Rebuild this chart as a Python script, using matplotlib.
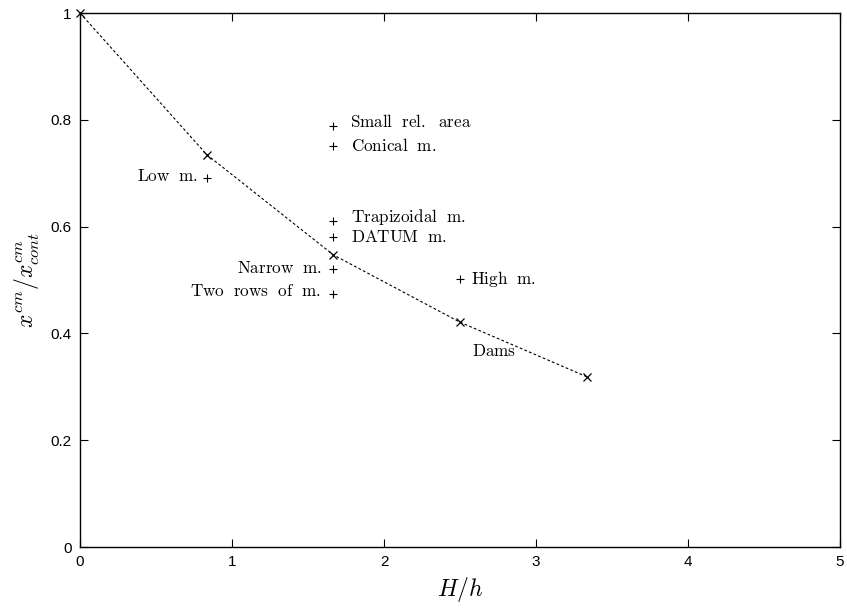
import matplotlib
matplotlib.use('Agg')
import matplotlib.pyplot as plt

plt.rcParams['mathtext.fontset'] = 'cm'
plt.rcParams['font.family'] = ['Liberation Sans', 'DejaVu Sans']

# curve through the x markers
curve_x = [0.0, 0.833, 1.667, 2.5, 3.333]
curve_y = [1.0, 0.735, 0.547, 0.421, 0.319]

# single cases (+ markers)
case_x = [0.833, 1.667, 1.667, 1.667, 1.667, 1.667, 1.667, 2.5]
case_y = [0.691, 0.788, 0.751, 0.610, 0.580, 0.521, 0.474, 0.502]
case_labels = ['Low m.', 'Small rel. area', 'Conical m.', 'Trapizoidal m.',
               'DATUM m.', 'Narrow m.', 'Two rows of m.', 'High m.']
# label offset from its marker, pixels
case_dx = [-9, 17, 18, 18, 18, -11, -13, 11]
case_dy = [2, 5, 0, 4, 0, 1, 3, 0]

dams_label = 'Dams'
dams_xy = (2.58, 0.367)


def cm_text(s):
    return r'$\mathrm{' + s.replace(' ', r'\ \ ') + '}$'


fig = plt.figure(figsize=(8.47, 6.08), dpi=100)
ax = fig.add_axes([0.0945, 0.1003, 0.8972, 0.8783])

ax.plot(curve_x, curve_y, color='black', linestyle=(0, (2.5, 2)), linewidth=0.8,
        marker='x', markersize=6, markeredgewidth=0.9, clip_on=False)
ax.plot(case_x, case_y, linestyle='none', color='black', marker='+',
        markersize=6, markeredgewidth=0.8)

for x, y, lab, dx, dy in zip(case_x, case_y, case_labels, case_dx, case_dy):
    ha = 'left' if dx > 0 else 'right'
    ax.annotate(cm_text(lab), (x, y), xytext=(dx, dy), textcoords='offset pixels',
                ha=ha, va='center', fontsize=12.3)

ax.text(dams_xy[0], dams_xy[1], cm_text(dams_label), ha='left', va='center',
        fontsize=12.3)

ax.set_xlim(0, 5)
ax.set_ylim(0, 1)
ax.set_xticks([0, 1, 2, 3, 4, 5])
ax.set_yticks([0, 0.2, 0.4, 0.6, 0.8, 1])
ax.set_yticklabels(['0', '0.2', '0.4', '0.6', '0.8', '1'])
ax.tick_params(direction='in', top=True, right=True, length=6, width=0.8,
               labelsize=11, pad=6)
for sp in ax.spines.values():
    sp.set_linewidth(1.0)

ax.set_xlabel(r'$H/h$', fontsize=17, labelpad=4)
ax.set_ylabel(r'$x^{cm}/x^{cm}_{cont}$', fontsize=17, labelpad=6)

fig.savefig('out.png', dpi=100)
